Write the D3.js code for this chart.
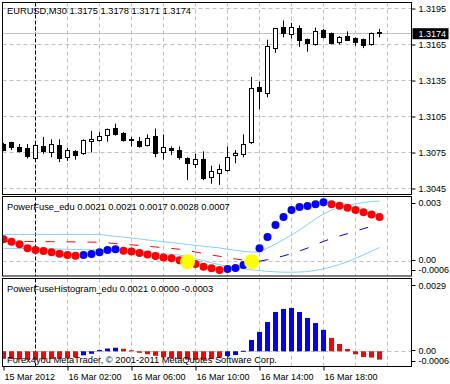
<!DOCTYPE html>
<html><head><meta charset="utf-8">
<script src="https://cdn.jsdelivr.net/npm/d3@7"></script>
<style>
html,body{margin:0;padding:0;background:#fff;}
svg{display:block;}
text{font-family:"Liberation Sans",Arial,sans-serif;fill:#000;}
</style></head><body>
<svg id="chart" width="450" height="384"></svg>
<script>
// ---------- DATA ----------
const mainTitle = "EURUSD,M30  1.3175 1.3178 1.3171 1.3174";
const fuseTitle = "PowerFuse_edu 0.0021 0.0021 0.0017 0.0028 0.0007";
const histTitle = "PowerFuseHistogram_edu 0.0021 0.0000 -0.0003";
const copyright = "Forex4you MetaTrader, \u00A9 2001-2011 MetaQuotes Software Corp.";

const openP  = [1.3082,1.3083,1.3079,1.3078,1.3070,1.3080,1.3075,1.3081,1.3071,1.3076,1.3074,1.3084,1.3085,1.3089,1.3095,1.3091,1.3086,1.3084,1.3081,1.3088,1.3075,1.3078,1.3077,1.3070,1.3065,1.3069,1.3054,1.3058,1.3060,1.3072,1.3074,1.3083,1.3129,1.3124,1.3161,1.3179,1.3173,1.3178,1.3169,1.3165,1.3177,1.3174,1.3167,1.3172,1.3170,1.3169,1.3165,1.3175];
const highP  = [1.3083,1.3084,1.3082,1.3082,1.3083,1.3088,1.3086,1.3086,1.3079,1.3077,1.3086,1.3093,1.3092,1.3095,1.3099,1.3092,1.3088,1.3088,1.3090,1.3095,1.3090,1.3080,1.3080,1.3071,1.3074,1.3076,1.3064,1.3065,1.3080,1.3077,1.3090,1.3138,1.3134,1.3169,1.3178,1.3185,1.3183,1.3181,1.3170,1.3179,1.3178,1.3175,1.3172,1.3176,1.3171,1.3170,1.3175,1.3178];
const lowP   = [1.3076,1.3077,1.3075,1.3070,1.3069,1.3074,1.3071,1.3067,1.3068,1.3069,1.3073,1.3075,1.3084,1.3084,1.3089,1.3084,1.3080,1.3079,1.3080,1.3071,1.3069,1.3073,1.3069,1.3052,1.3062,1.3052,1.3049,1.3048,1.3059,1.3066,1.3071,1.3082,1.3111,1.3121,1.3158,1.3171,1.3170,1.3163,1.3159,1.3164,1.3170,1.3165,1.3165,1.3169,1.3164,1.3162,1.3164,1.3171];
const closeP = [1.3077,1.3079,1.3076,1.3071,1.3081,1.3076,1.3082,1.3070,1.3077,1.3073,1.3085,1.3086,1.3088,1.3094,1.3090,1.3085,1.3085,1.3080,1.3087,1.3074,1.3079,1.3076,1.3071,1.3066,1.3069,1.3053,1.3059,1.3061,1.3071,1.3074,1.3082,1.3128,1.3126,1.3163,1.3178,1.3174,1.3179,1.3168,1.3166,1.3176,1.3171,1.3166,1.3171,1.3169,1.3167,1.3164,1.3174,1.3174];
const lastPrice = 1.3174;

const priceTicks = [1.3195,1.3165,1.3135,1.3105,1.3075,1.3045];
const timeLabelBars = [0,8,16,24,32,40];
const timeLabels = ["15 Mar 2012","16 Mar 02:00","16 Mar 06:00","16 Mar 10:00","16 Mar 14:00","16 Mar 18:00"];
const gridBars = [4,8,12,16,20,24,28,32,36,40,44,48];
const daySeparatorBar = 4;

const fuseDots = [0.00104,0.00093,0.00081,0.00062,0.00054,0.00050,0.00044,0.00037,0.00031,0.00028,0.00031,0.00036,0.00044,0.00054,0.00058,0.00051,0.00047,0.00040,0.00034,0.00027,0.00020,0.00016,0.00007,0.00003,-0.00011,-0.00023,-0.00031,-0.00039,-0.00034,-0.00029,-0.00015,0.00001,0.00062,0.00115,0.00171,0.00208,0.00240,0.00254,0.00259,0.00267,0.00276,0.00267,0.00260,0.00251,0.00240,0.00230,0.00220,0.00208];
const fuseUpper = [0.00127,0.00127,0.00127,0.00127,0.00127,0.00127,0.00127,0.00127,0.00127,0.00127,0.00127,0.00127,0.00127,0.00122,0.00118,0.00114,0.00110,0.00106,0.00101,0.00097,0.00093,0.00089,0.00085,0.00080,0.00076,0.00072,0.00068,0.00064,0.00058,0.00053,0.00048,0.00045,0.00045,0.00064,0.00082,0.00103,0.00124,0.00147,0.00173,0.00199,0.00222,0.00240,0.00252,0.00261,0.00269,0.00275,0.00280,0.00282];
const fuseLower = [0.00062,0.00062,0.00061,0.00061,0.00060,0.00060,0.00060,0.00059,0.00058,0.00057,0.00056,0.00055,0.00054,0.00053,0.00051,0.00049,0.00047,0.00045,0.00043,0.00040,0.00037,0.00034,0.00031,0.00023,0.00014,0.00005,-0.00005,-0.00014,-0.00022,-0.00028,-0.00033,-0.00038,-0.00041,-0.00045,-0.00047,-0.00049,-0.00049,-0.00048,-0.00046,-0.00040,-0.00033,-0.00024,-0.00013,0.00000,0.00016,0.00032,0.00049,0.00066];
const fuseMid = [0.00095,0.000945,0.00094,0.000938,0.000935,0.000933,0.00093,0.000928,0.000925,0.00092,0.000915,0.00091,0.000905,0.000875,0.000845,0.000815,0.000785,0.000755,0.00072,0.000685,0.00065,0.000615,0.00058,0.000515,0.00045,0.000385,0.000315,0.00025,0.00018,0.000125,0.000075,0.000035,0.00002,0.000095,0.000175,0.00027,0.000375,0.000495,0.000635,0.000795,0.000945,0.00108,0.001195,0.001305,0.001425,0.001535,0.001645,0.00174];
const signalBars = [23,31];
const oscTicks = [0.003,0,-0.0006];
const oscTickLabels = ["0.003","0.00","-0.0006"];

const histValues = [-0.00030,-0.00031,-0.00032,-0.00033,-0.00033,-0.00032,-0.00031,-0.00030,-0.00028,-0.00024,-0.00016,-0.00010,0.00005,0.00011,0.00014,0.00010,0.00004,-0.00006,-0.00012,-0.00018,-0.00024,-0.00028,-0.00031,-0.00033,-0.00034,-0.00034,-0.00031,-0.00026,-0.00019,-0.00015,0.00002,0.00045,0.00077,0.00116,0.00156,0.00168,0.00172,0.00156,0.00132,0.00112,0.00085,0.00053,0.00029,0.00009,-0.00012,-0.00023,-0.00025,-0.00033];
const histTicks = [0.0029,0,-0.0006];
const histTickLabels = ["0.0029","0.00","-0.0006"];

// ---------- LAYOUT ----------
const svg = d3.select("#chart");
const L = 2.5, R = 411.5;
const P1 = {top:2.5, bottom:194.5}, P2 = {top:196.5, bottom:276}, P3 = {top:278.5, bottom:366.5};
const RED = "#ff0000", BLUE = "#0000ff", LIGHT = "#87cefa", GRID = "#c0c0c0";

const n = openP.length;
const x = d3.scaleLinear().domain([0, 47]).range([3.5, 379.5]);
const yP = d3.scaleLinear().domain([1.3045, 1.3195]).range([188.5, 8.5]);
const yO = d3.scaleLinear().domain([-0.0006, 0.003]).range([274.6, 197.2]);
const yH = d3.scaleLinear().domain([-0.0006, 0.0029]).range([366.4, 278.2]);
const crisp = v => Math.round(v - 0.5) + 0.5;

svg.append("rect").attr("width",450).attr("height",384).attr("fill","#fff");
const defs = svg.append("defs");
[["c1",P1],["c2",P2],["c3",P3]].forEach(([id,p]) => {
  defs.append("clipPath").attr("id",id).append("rect")
    .attr("x",L).attr("y",p.top).attr("width",R-L).attr("height",p.bottom-p.top);
});

function panelGrid(p, clip){
  const g = svg.append("g").attr("clip-path",`url(#${clip})`);
  g.selectAll("line.vg").data(gridBars).join("line")
    .attr("x1",d=>x(d)).attr("x2",d=>x(d)).attr("y1",p.top).attr("y2",p.bottom)
    .attr("stroke",d=>d===daySeparatorBar?"#000":GRID)
    .attr("stroke-dasharray",d=>d===daySeparatorBar?"4,2":"4,3");
  return g;
}

// ---------- PANEL 1 ----------
const g1 = panelGrid(P1,"c1");
g1.selectAll("line.hg").data(priceTicks).join("line")
  .attr("x1",L).attr("x2",R).attr("y1",d=>crisp(yP(d))).attr("y2",d=>crisp(yP(d)))
  .attr("stroke",GRID).attr("stroke-dasharray","4,3");
g1.append("line").attr("x1",L).attr("x2",R)
  .attr("y1",crisp(yP(lastPrice))).attr("y2",crisp(yP(lastPrice))).attr("stroke",GRID);
g1.append("text").attr("x",7).attr("y",13.5).attr("font-size","9.3px").text(mainTitle);

const idx = d3.range(n);
g1.selectAll("line.wick").data(idx).join("line")
  .attr("x1",k=>x(k)).attr("x2",k=>x(k))
  .attr("y1",k=>yP(highP[k])).attr("y2",k=>yP(lowP[k]))
  .attr("stroke","#000");
g1.selectAll("rect.body").data(idx).join("rect")
  .attr("x",k=>x(k)-2).attr("width",4)
  .attr("y",k=>crisp(yP(Math.max(openP[k],closeP[k]))))
  .attr("height",k=>Math.max(1, Math.round(Math.abs(yP(openP[k])-yP(closeP[k])))))
  .attr("fill",k=>closeP[k]>=openP[k]?"#fff":"#000")
  .attr("stroke","#000");

const ax1 = svg.append("g").attr("transform",`translate(${R},0)`)
  .call(d3.axisRight(yP).tickValues(priceTicks).tickSize(4).tickFormat(d3.format(".4f")));
ax1.select(".domain").remove();
ax1.selectAll("text").attr("font-size","9px").attr("font-family","Liberation Sans, Arial, sans-serif").attr("fill","#000");
svg.append("rect").attr("x",R+1).attr("y",yP(lastPrice)-5.5).attr("width",36).attr("height",11).attr("fill","#000");
svg.append("text").attr("x",R+7).attr("y",yP(lastPrice)).attr("dy","0.34em")
  .attr("font-size","9px").style("fill","#fff").text(d3.format(".4f")(lastPrice));

// ---------- PANEL 2 ----------
const g2 = panelGrid(P2,"c2");
g2.append("line").attr("x1",L).attr("x2",R).attr("y1",crisp(yO(0))).attr("y2",crisp(yO(0)))
  .attr("stroke",GRID).attr("stroke-dasharray","4,3");
const lineO = arr => d3.line().x((d,i)=>x(i)).y(d=>yO(d))(arr);
g2.append("path").attr("d",lineO(fuseUpper)).attr("fill","none").attr("stroke",LIGHT);
g2.append("path").attr("d",lineO(fuseLower)).attr("fill","none").attr("stroke",LIGHT);
const runs = [];
for (let k=1;k<n;k++){
  const c = fuseMid[k] > fuseMid[k-1] ? BLUE : RED;
  if (runs.length && runs[runs.length-1].c===c) runs[runs.length-1].e=k;
  else runs.push({c, s:k-1, e:k});
}
g2.selectAll("path.mid").data(runs).join("path")
  .attr("d",r=>d3.line().x(k=>x(k)).y(k=>yO(fuseMid[k]))(d3.range(r.s,r.e+1)))
  .attr("fill","none").attr("stroke",r=>r.c).attr("stroke-dasharray","9,12");
g2.append("text").attr("x",7).attr("y",210).attr("font-size","9.3px").text(fuseTitle);
const rising = k => k>0 && fuseDots[k] > fuseDots[k-1];
g2.selectAll("circle.dot").data(idx).join("circle")
  .attr("cx",k=>x(k)).attr("cy",k=>yO(fuseDots[k])).attr("r",4)
  .attr("fill",k=>rising(k)?BLUE:RED);
g2.selectAll("circle.sig").data(signalBars).join("circle")
  .attr("cx",k=>x(k)).attr("cy",yO(0)).attr("r",7.5).attr("fill","#ffff00");

function sideLabels(vals, labs, scale, p, mTop, mBot, shiftZero){
  const g = svg.append("g");
  vals.forEach((v,i)=>{
    let y = Math.min(Math.max(scale(v), p.top+mTop), p.bottom-mBot);
    if (v===0) y += shiftZero;
    g.append("line").attr("x1",R).attr("x2",R+4).attr("y1",crisp(y)).attr("y2",crisp(y)).attr("stroke","#000");
    g.append("text").attr("x",R+7).attr("y",y).attr("dy","0.34em").attr("font-size","9px").text(labs[i]);
  });
}
sideLabels(oscTicks, oscTickLabels, yO, P2, 6.5, 5.8, -1.3);

// ---------- PANEL 3 ----------
const g3 = panelGrid(P3,"c3");
g3.append("line").attr("x1",L).attr("x2",R).attr("y1",crisp(yH(0))).attr("y2",crisp(yH(0)))
  .attr("stroke",GRID).attr("stroke-dasharray","4,3");
g3.selectAll("rect.hb").data(idx).join("rect")
  .attr("x",k=>x(k)-2.5).attr("width",5)
  .attr("y",k=>Math.min(yH(histValues[k]), yH(0)))
  .attr("height",k=>Math.max(1, Math.abs(yH(histValues[k])-yH(0))))
  .attr("fill",k=>rising(k)?BLUE:RED);
g3.append("text").attr("x",7).attr("y",292).attr("font-size","9.3px").text(histTitle);
g3.append("text").attr("x",7).attr("y",362.5).attr("font-size","9.3px").text(copyright);
sideLabels(histTicks, histTickLabels, yH, P3, 7, 5.5, -0.5);

// ---------- FRAMES & TIME AXIS ----------
[P1,P2,P3].forEach(p=>{
  svg.append("rect").attr("x",L).attr("y",p.top).attr("width",R-L).attr("height",p.bottom-p.top)
    .attr("fill","none").attr("stroke","#000");
});
const axB = svg.append("g").attr("transform",`translate(0,${P3.bottom})`)
  .call(d3.axisBottom(x).tickValues(timeLabelBars).tickSize(4).tickFormat((d,i)=>timeLabels[i]));
axB.select(".domain").remove();
axB.selectAll("text").attr("text-anchor","start").attr("dx","0.5")
  .attr("font-size","9px").attr("font-family","Liberation Sans, Arial, sans-serif").attr("fill","#000");
</script>
</body></html>
